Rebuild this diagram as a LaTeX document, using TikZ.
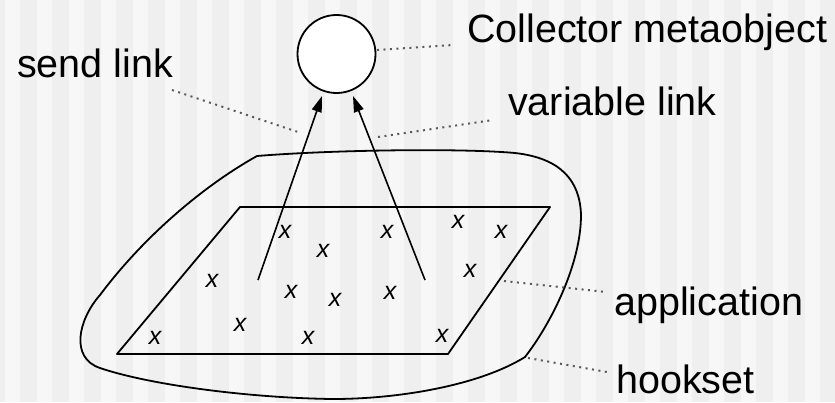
\documentclass[tikz,border=0pt]{standalone}
\usepackage{fontspec}
\setmainfont{Liberation Sans}
\usetikzlibrary{arrows.meta}
\definecolor{stripedark}{HTML}{EFEFEF}
\definecolor{stripelight}{HTML}{F7F7F7}
\definecolor{leadergrey}{HTML}{5A5A5A}
\tikzset{
  textlabel/.style={anchor=base west, inner sep=0pt, font=\fontsize{39.5}{46}\selectfont},
  hookmark/.style={inner sep=0pt, font=\fontsize{25}{28}\selectfont\itshape},
  leader/.style={leadergrey, line width=2pt, dash pattern=on 2pt off 4.5pt},
  outline/.style={line width=1.8pt, line join=round},
  link/.style={line width=1.6pt, -{Triangle[length=16pt,width=10pt]}},
}
\begin{document}
\begin{tikzpicture}[x=1pt,y=-1pt]
  % striped backdrop
  \fill[stripedark] (0,0) rectangle (835,402);
  \foreach \k in {0,...,25}{
    \fill[stripelight] ({5+32*\k},0) rectangle ({20+32*\k},402);
  }
  \useasboundingbox (0,0) rectangle (835,402);

  % hookset boundary
  \draw[outline] (257,156) .. controls (330,150) and (460,148) .. (515,153)
    .. controls (560,158) and (580,180) .. (581,215)
    .. controls (581,265) and (550,325) .. (525,357)
    .. controls (480,385) and (400,399) .. (333,399)
    .. controls (250,398) and (150,385) .. (100,368)
    .. controls (70,358) and (78,320) .. (100,295)
    .. controls (145,235) and (205,185) .. (257,156) -- cycle;

  % application area
  \draw[outline] (240,207) -- (550,207) -- (448,354) -- (117,354) -- cycle;

  % hooks inside the application
  \foreach \p in {(285,232),(323,251),(387,232),(458,222),(501,232),
                  (212,281),(470,271),(291,292),(335,300),(390,293),
                  (155,338),(240,325),(308,338),(442,336)}{
    \node[hookmark] at \p {x};
  }

  % collector metaobject
  \node[circle, draw, fill=white, line width=1.8pt, minimum size=78pt, inner sep=0pt] (collector) at (336.5,54) {};

  % links from the application to the collector
  \coordinate (sendfrom) at (258,280);
  \coordinate (sendto) at (322,96);
  \coordinate (varfrom) at (425,280);
  \coordinate (varto) at (353,96);
  \draw[link] (sendfrom) -- (sendto);
  \draw[link] (varfrom) -- (varto);

  % labels
  \node[textlabel] (lcollector) at (467,42) {Collector metaobject};
  \node[textlabel] (lsend) at (17,77) {send link};
  \node[textlabel] (lvar) at (508,115) {variable link};
  \node[textlabel] (lapp) at (614,315) {application};
  \node[textlabel] (lhook) at (616,393) {hookset};

  % leader lines
  \coordinate (c1) at (377,50);   \coordinate (c2) at (453,45);
  \coordinate (s1) at (172,90);   \coordinate (s2) at (301,133);
  \coordinate (v1) at (378,137);  \coordinate (v2) at (493,120);
  \coordinate (a1) at (504,281);  \coordinate (a2) at (606,292);
  \coordinate (h1) at (528,358);  \coordinate (h2) at (607,372);
  \draw[leader] (c1) -- (c2);
  \draw[leader] (s1) -- (s2);
  \draw[leader] (v1) -- (v2);
  \draw[leader] (a1) -- (a2);
  \draw[leader] (h1) -- (h2);
\end{tikzpicture}
\end{document}
